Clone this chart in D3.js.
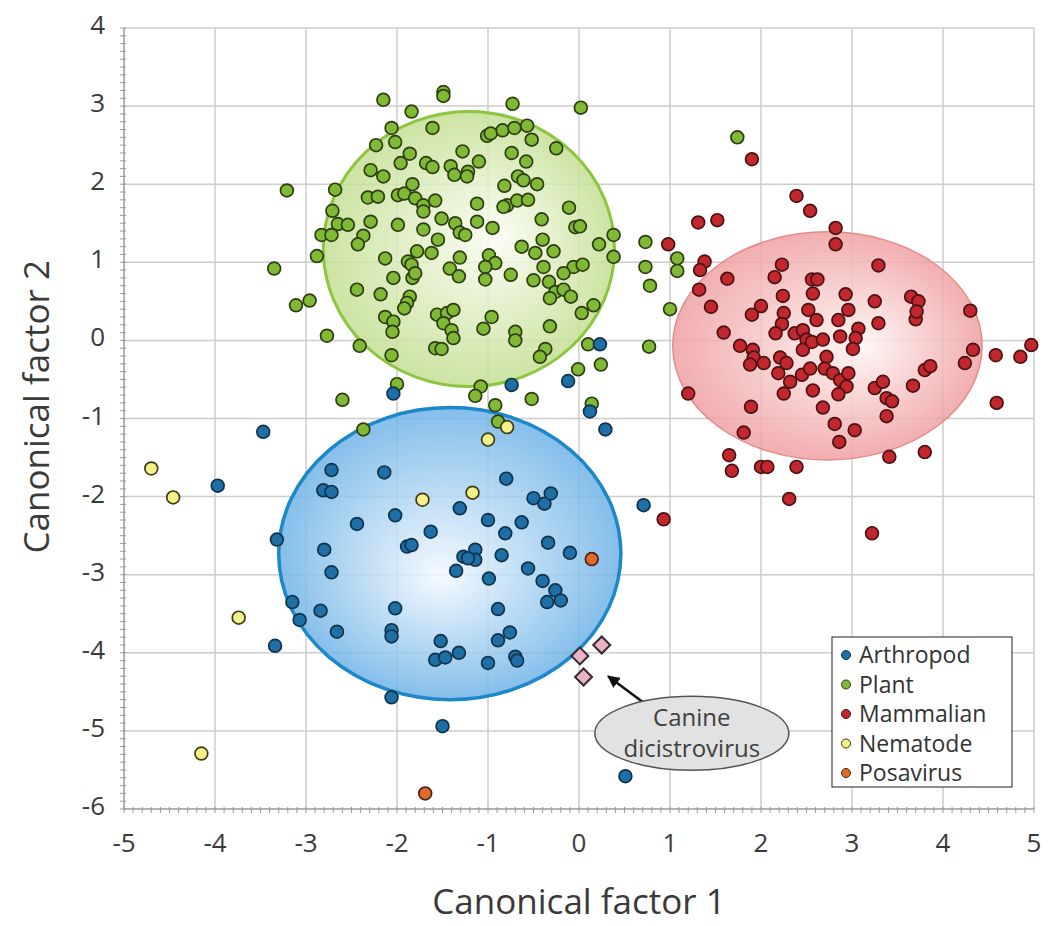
<!DOCTYPE html>
<html>
<head>
<meta charset="utf-8">
<script src="https://cdn.jsdelivr.net/npm/d3@7"></script>
<style>
  body { margin: 0; background: #fff; }
  text { font-family: "Open Sans", sans-serif; }
</style>
</head>
<body>
<div id="chart"></div>
<script>
// ---- data (canonical factor 1, canonical factor 2) ----
var xTicks = [-5, -4, -3, -2, -1, 0, 1, 2, 3, 4, 5];
var yTicks = [-6, -5, -4, -3, -2, -1, 0, 1, 2, 3, 4];

var plant = [
  [-2.15,3.08],[-1.49,3.18],[-1.49,3.13],[-1.84,2.93],[-0.73,3.03],[0.02,2.98],[-2.06,2.72],[-1.61,2.72],
  [-2.02,2.54],[-2.23,2.50],[-1.01,2.62],[-0.97,2.65],[-0.84,2.69],[-0.71,2.72],[-0.57,2.75],[-0.52,2.57],
  [-0.25,2.46],[-1.28,2.42],[-1.86,2.39],[-1.96,2.27],[-1.68,2.27],[-1.61,2.22],[-1.41,2.23],[-1.37,2.12],
  [-1.22,2.16],[-1.23,2.10],[-1.10,2.29],[-0.74,2.40],[-0.58,2.29],[-2.29,2.18],[-2.15,2.10],[-0.67,2.10],
  [-0.61,2.05],[-0.46,2.00],[-3.21,1.92],[-2.68,1.93],[-2.32,1.83],[-2.21,1.84],[-1.99,1.86],[-1.92,1.88],
  [-1.83,2.00],[-1.80,1.82],[-1.71,1.73],[-1.58,1.79],[-0.82,1.98],[-0.79,1.73],[-0.83,1.71],[-0.68,1.79],
  [-0.56,1.80],[-1.12,1.75],[-0.11,1.70],[-2.71,1.66],[-1.71,1.65],[-1.51,1.56],[-1.36,1.50],[-1.31,1.38],
  [-1.25,1.35],[-1.99,1.48],[-2.29,1.52],[-2.65,1.49],[-2.54,1.48],[-2.83,1.35],[-2.72,1.35],[-1.12,1.52],
  [-0.95,1.44],[-0.41,1.55],[-0.04,1.45],[0.01,1.46],[-1.71,1.42],[-2.37,1.34],[-2.43,1.23],[-1.55,1.29],
  [0.38,1.35],[0.22,1.23],[-2.88,1.08],[-1.78,1.14],[-1.88,1.01],[-1.84,0.97],[-1.62,1.12],[-2.13,1.05],
  [-1.42,0.92],[-1.31,1.06],[-1.32,0.82],[-0.99,1.09],[-0.92,0.99],[-1.03,0.94],[-1.03,0.78],[-0.75,0.84],
  [-0.63,1.20],[-0.48,1.12],[-0.40,1.29],[-0.28,1.14],[-0.39,0.94],[0.38,1.07],[-0.06,0.94],[0.04,0.97],
  [-0.17,0.86],[-0.50,0.77],[-0.33,0.75],[-0.26,0.62],[-0.17,0.65],[-0.09,0.56],[-0.32,0.54],[-3.35,0.92],
  [-2.04,0.80],[-1.83,0.80],[-1.80,0.86],[-2.44,0.65],[-2.18,0.59],[-1.86,0.56],[-1.89,0.48],[-1.92,0.41],
  [-2.96,0.51],[-3.11,0.45],[-1.56,0.33],[-1.45,0.35],[-1.38,0.39],[-1.49,0.22],[-1.40,0.13],[-1.38,0.03],
  [-2.13,0.30],[-2.04,0.24],[-2.05,0.11],[-0.96,0.30],[-1.05,0.15],[-0.32,0.18],[0.03,0.35],[0.16,0.45],
  [-0.70,0.11],[-0.70,0.00],[-2.77,0.06],[-2.41,-0.07],[-2.06,-0.19],[-1.58,-0.10],[-1.51,-0.11],[-0.37,-0.11],
  [-0.43,-0.21],[0.10,-0.05],[-0.01,-0.37],[0.24,-0.31],[-2.00,-0.56],[-1.08,-0.59],[-1.14,-0.71],[-0.52,-0.75],
  [-2.60,-0.76],[-0.92,-0.83],[-0.89,-1.04],[0.14,-0.81],[-2.37,-1.14],[0.73,1.26],[0.73,0.94],[0.78,0.70],
  [0.77,-0.08],[1.00,0.40],[1.08,1.05],[1.08,0.89],[1.74,2.60]
];

var mammalian = [
  [1.90,2.32],[2.39,1.85],[2.54,1.66],[1.31,1.51],[1.52,1.54],[0.98,1.23],[1.38,1.01],[1.33,0.90],
  [2.82,1.44],[2.82,1.23],[2.23,0.97],[2.15,0.81],[2.56,0.78],[2.62,0.78],[3.29,0.96],[1.63,0.79],
  [1.32,0.65],[1.45,0.43],[2.24,0.57],[2.57,0.60],[2.93,0.59],[3.25,0.50],[3.65,0.56],[3.73,0.50],
  [3.70,0.27],[3.71,0.37],[4.30,0.38],[1.90,0.33],[2.00,0.44],[2.25,0.35],[2.23,0.21],[2.16,0.09],
  [2.52,0.39],[2.61,0.26],[2.85,0.26],[2.96,0.39],[3.29,0.22],[1.59,0.10],[2.37,0.09],[2.46,0.13],
  [2.50,0.01],[2.46,-0.12],[2.56,-0.02],[2.68,0.01],[2.87,0.05],[3.07,0.15],[3.04,0.03],[3.01,-0.11],
  [1.77,-0.07],[1.91,-0.12],[1.92,-0.22],[2.03,-0.29],[1.88,-0.31],[2.21,-0.22],[2.28,-0.29],[2.19,-0.42],
  [2.32,-0.53],[2.25,-0.68],[2.45,-0.44],[2.54,-0.36],[2.57,-0.64],[2.72,-0.21],[2.70,-0.36],[2.79,-0.42],
  [2.87,-0.51],[2.96,-0.42],[2.94,-0.59],[2.85,-0.69],[2.68,-0.86],[4.33,-0.12],[4.24,-0.29],[4.58,-0.19],
  [4.85,-0.21],[4.97,-0.06],[3.80,-0.38],[3.86,-0.33],[3.67,-0.58],[3.25,-0.61],[3.34,-0.53],[3.38,-0.74],
  [3.44,-0.78],[3.38,-0.97],[4.59,-0.80],[1.20,-0.68],[1.89,-0.85],[2.81,-1.07],[2.86,-1.30],[3.03,-1.15],
  [1.81,-1.18],[1.65,-1.47],[1.68,-1.67],[2.00,-1.62],[2.07,-1.62],[2.39,-1.62],[3.41,-1.49],[3.80,-1.43],
  [2.31,-2.03],[0.93,-2.29],[3.22,-2.47]
];

var arthropod = [
  [0.23,-0.05],[-0.12,-0.52],[-0.74,-0.57],[-2.04,-0.68],[0.12,-0.91],[0.29,-1.14],[-3.47,-1.17],[-3.97,-1.86],
  [-2.72,-1.66],[-2.81,-1.92],[-2.72,-1.94],[-2.14,-1.69],[-0.80,-1.77],[-0.50,-2.02],[-0.38,-2.09],[-0.31,-1.96],
  [-1.31,-2.15],[-2.02,-2.24],[-2.44,-2.35],[-1.63,-2.45],[-1.00,-2.30],[-0.81,-2.47],[-0.63,-2.33],[-3.32,-2.55],
  [-2.80,-2.68],[-1.89,-2.64],[-1.84,-2.62],[-1.27,-2.77],[-1.14,-2.68],[-1.14,-2.81],[-1.22,-2.79],[-0.85,-2.75],
  [-0.34,-2.59],[-0.10,-2.72],[-2.72,-2.97],[-1.35,-2.95],[-0.99,-3.05],[-0.56,-2.92],[-0.40,-3.08],[-0.26,-3.20],
  [-0.35,-3.35],[-0.20,-3.33],[-3.15,-3.35],[-3.07,-3.58],[-2.84,-3.46],[-2.02,-3.43],[-0.89,-3.44],[-2.66,-3.73],
  [-2.06,-3.71],[-2.06,-3.79],[-1.52,-3.85],[-1.58,-4.09],[-1.47,-4.06],[-1.32,-4.00],[-0.76,-3.74],[-0.89,-3.84],
  [-0.70,-4.05],[-0.68,-4.10],[-1.00,-4.13],[-3.34,-3.91],[-2.06,-4.57],[-1.50,-4.94],[0.51,-5.58],[0.71,-2.11]
];

var nematode = [
  [-4.70,-1.64],[-4.46,-2.01],[-3.74,-3.55],[-4.15,-5.29],[-1.72,-2.04],[-1.17,-1.95],[-1.00,-1.27],[-0.79,-1.11]
];

var posavirus = [[0.14,-2.80],[-1.69,-5.80]];

var canine = [[0.01,-4.04],[0.25,-3.90],[0.05,-4.31]];

// group ellipses: centre x, centre y, radius x, radius y (data units)
var groupNames = ["Plant", "Mammalian", "Arthropod"];
var groupCx = [-1.21, 2.73, -1.42];
var groupCy = [1.17, -0.07, -2.73];
var groupRx = [1.60, 1.70, 1.88];
var groupRy = [1.76, 1.46, 1.87];

var legendNames = ["Arthropod", "Plant", "Mammalian", "Nematode", "Posavirus"];
var calloutLines = ["Canine", "dicistrovirus"];

// ---- layout ----
var width = 1051;
var height = 926;
var padding = { left: 124, right: 17, top: 28, bottom: 117 };

var svg = d3.select('#chart')
            .append('svg')
                .attr("width", width)
                .attr("height", height);

var xScale = d3.scaleLinear().domain([-5, 5]).range([padding.left, width - padding.right]);
var yScale = d3.scaleLinear().domain([-6, 4]).range([height - padding.bottom, padding.top]);

var colors = {
    "Arthropod": { fill: "#1d6fa5", stroke: "#10334d" },
    "Plant":     { fill: "#80b935", stroke: "#2c3d10" },
    "Mammalian": { fill: "#c1272d", stroke: "#4a1212" },
    "Nematode":  { fill: "#f3f08c", stroke: "#3d3b12" },
    "Posavirus": { fill: "#e0692e", stroke: "#4d2210" }
};

var ellStyle = [
    { inner: "#fbfdf4", outer: "#c4df93", stroke: "#8cc63f", sw: 3,   fx: "60%", fy: "45%" },
    { inner: "#fff4f4", outer: "#efa0a1", stroke: "#e58a8c", sw: 1.5, fx: "62%", fy: "50%" },
    { inner: "#f3f9ff", outer: "#6fb3e6", stroke: "#1c87c9", sw: 3.5, fx: "47%", fy: "58%" }
];

var defs = svg.append("defs");
ellStyle.forEach(function(s, i){
    var g = defs.append("radialGradient")
        .attr("id", "grad" + i)
        .attr("cx", "50%").attr("cy", "50%").attr("r", "50%")
        .attr("fx", s.fx).attr("fy", s.fy);
    g.append("stop").attr("offset", "0%").attr("stop-color", s.inner);
    g.append("stop").attr("offset", "100%").attr("stop-color", s.outer);
});

defs.append("marker")
    .attr("id", "arrow")
    .attr("viewBox", "0 0 10 10")
    .attr("refX", 9).attr("refY", 5)
    .attr("markerWidth", 5).attr("markerHeight", 5)
    .attr("orient", "auto")
    .append("path")
        .attr("d", "M0,0 L10,5 L0,10 z")
        .attr("fill", "#111");

// grid
var grid = svg.append("g");
grid.selectAll("line.v")
    .data(xTicks.slice(1))
    .enter()
    .append("line")
    .attr("x1", function(d){ return xScale(d); })
    .attr("x2", function(d){ return xScale(d); })
    .attr("y1", yScale(4))
    .attr("y2", yScale(-6))
    .attr("stroke", "#cccccc")
    .attr("stroke-width", 1.5);
grid.selectAll("line.h")
    .data(yTicks.slice(1))
    .enter()
    .append("line")
    .attr("x1", xScale(-5))
    .attr("x2", xScale(5))
    .attr("y1", function(d){ return yScale(d); })
    .attr("y2", function(d){ return yScale(d); })
    .attr("stroke", "#cccccc")
    .attr("stroke-width", 1.5);

// group ellipses
svg.selectAll("ellipse.group")
    .data(groupNames)
    .enter()
    .append("ellipse")
    .attr("class", "group")
    .attr("cx", function(d, i){ return xScale(groupCx[i]); })
    .attr("cy", function(d, i){ return yScale(groupCy[i]); })
    .attr("rx", function(d, i){ return xScale(groupRx[i]) - xScale(0); })
    .attr("ry", function(d, i){ return yScale(0) - yScale(groupRy[i]); })
    .attr("fill", function(d, i){ return "url(#grad" + i + ")"; })
    .attr("fill-opacity", 0.85)
    .attr("stroke", function(d, i){ return ellStyle[i].stroke; })
    .attr("stroke-width", function(d, i){ return ellStyle[i].sw; });

// axes: minor ticks every 0.1
var axisG = svg.append("g").attr("stroke", "#9a9a9a");
axisG.append("line")
    .attr("x1", xScale(-5)).attr("x2", xScale(-5))
    .attr("y1", yScale(4)).attr("y2", yScale(-6))
    .attr("stroke-width", 1.5);
axisG.append("line")
    .attr("x1", xScale(-5)).attr("x2", xScale(5))
    .attr("y1", yScale(-6)).attr("y2", yScale(-6))
    .attr("stroke-width", 1.5);
axisG.selectAll("line.ym")
    .data(d3.range(0, 101).map(function(i){ return -6 + i / 10; }))
    .enter()
    .append("line")
    .attr("x1", xScale(-5) - 4).attr("x2", xScale(-5) + 2)
    .attr("y1", function(d){ return yScale(d); })
    .attr("y2", function(d){ return yScale(d); })
    .attr("stroke-width", 1);
axisG.selectAll("line.xm")
    .data(d3.range(0, 101).map(function(i){ return -5 + i / 10; }))
    .enter()
    .append("line")
    .attr("x1", function(d){ return xScale(d); })
    .attr("x2", function(d){ return xScale(d); })
    .attr("y1", yScale(-6) - 2).attr("y2", yScale(-6) + 4)
    .attr("stroke-width", 1);

// tick labels
svg.selectAll("text.xt")
    .data(xTicks)
    .enter()
    .append("text")
    .attr("x", function(d){ return xScale(d); })
    .attr("y", yScale(-6) + 43)
    .attr("text-anchor", "middle")
    .attr("font-size", 26)
    .attr("fill", "#3a3a3a")
    .text(function(d){ return d; });
svg.selectAll("text.yt")
    .data(yTicks)
    .enter()
    .append("text")
    .attr("x", xScale(-5) - 19)
    .attr("y", function(d){ return yScale(d) + 6; })
    .attr("text-anchor", "end")
    .attr("font-size", 26)
    .attr("fill", "#3a3a3a")
    .text(function(d){ return d; });

// axis titles
svg.append("text")
    .attr("x", xScale(0))
    .attr("y", 914)
    .attr("text-anchor", "middle")
    .attr("font-size", 35)
    .attr("fill", "#3a3a3a")
    .text("Canonical factor 1");
svg.append("text")
    .attr("transform", "translate(49," + yScale(-0.85) + ") rotate(-90)")
    .attr("text-anchor", "middle")
    .attr("font-size", 35)
    .attr("fill", "#3a3a3a")
    .text("Canonical factor 2");

// points
function drawPoints(data, name){
    svg.append("g").selectAll("circle")
        .data(data)
        .enter()
        .append("circle")
        .attr("cx", function(d){ return xScale(d[0]); })
        .attr("cy", function(d){ return yScale(d[1]); })
        .attr("r", 6.4)
        .attr("fill", colors[name].fill)
        .attr("stroke", colors[name].stroke)
        .attr("stroke-width", 1.7);
}
drawPoints(plant, "Plant");
drawPoints(mammalian, "Mammalian");
drawPoints(arthropod, "Arthropod");
drawPoints(nematode, "Nematode");
drawPoints(posavirus, "Posavirus");

// canine dicistrovirus diamonds
svg.append("g").selectAll("rect")
    .data(canine)
    .enter()
    .append("rect")
    .attr("x", -6).attr("y", -6)
    .attr("width", 12).attr("height", 12)
    .attr("transform", function(d){
        return "translate(" + xScale(d[0]) + "," + yScale(d[1]) + ") rotate(45)";
    })
    .attr("fill", "#e8b3c6")
    .attr("stroke", "#3a2a30")
    .attr("stroke-width", 2);

// callout
svg.append("line")
    .attr("x1", xScale(0.70)).attr("y1", yScale(-4.63))
    .attr("x2", xScale(0.32)).attr("y2", yScale(-4.30))
    .attr("stroke", "#111")
    .attr("stroke-width", 2.5)
    .attr("marker-end", "url(#arrow)");
svg.append("ellipse")
    .attr("cx", xScale(1.24)).attr("cy", yScale(-5.03))
    .attr("rx", 97).attr("ry", 37)
    .attr("fill", "#e2e2e2")
    .attr("stroke", "#555")
    .attr("stroke-width", 1.5);
svg.append("text")
    .attr("y", yScale(-5.03) - 7)
    .attr("text-anchor", "middle")
    .attr("font-size", 24)
    .attr("fill", "#404040")
    .selectAll("tspan")
    .data(calloutLines)
    .enter()
    .append("tspan")
    .attr("x", xScale(1.24))
    .attr("dy", function(d, i){ return i == 0 ? 0 : 31; })
    .text(function(d){ return d; });

// legend
var legend = svg.append("g").attr("transform", "translate(832,637)");
legend.append("rect")
    .attr("width", 180).attr("height", 150)
    .attr("fill", "#fff")
    .attr("stroke", "#444")
    .attr("stroke-width", 1.2);
legend.selectAll("circle")
    .data(legendNames)
    .enter()
    .append("circle")
    .attr("cx", 14)
    .attr("cy", function(d, i){ return 18 + i * 29.5; })
    .attr("r", 4.5)
    .attr("fill", function(d){ return colors[d].fill; })
    .attr("stroke", function(d){ return colors[d].stroke; })
    .attr("stroke-width", 1);
legend.append("text")
    .attr("y", 26)
    .attr("font-size", 23)
    .attr("fill", "#333")
    .selectAll("tspan")
    .data(legendNames)
    .enter()
    .append("tspan")
    .attr("x", 27)
    .attr("dy", function(d, i){ return i == 0 ? 0 : 29.5; })
    .text(function(d){ return d; });
</script>
</body>
</html>
